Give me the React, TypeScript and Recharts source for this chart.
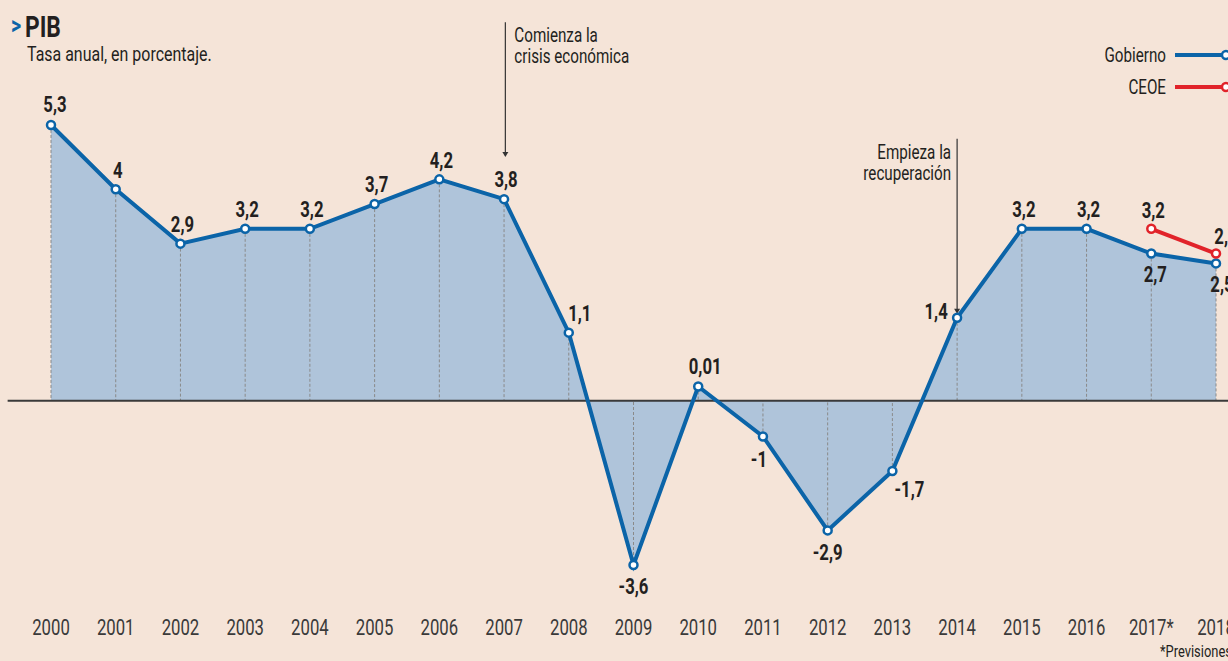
import React from "react";
import { ComposedChart, Area, Line, XAxis, YAxis, ReferenceLine, LabelList } from "recharts";

const years = ["2000","2001","2002","2003","2004","2005","2006","2007","2008","2009","2010","2011","2012","2013","2014","2015","2016","2017*","2018"];
const gobierno = [5.3, 4, 2.9, 3.2, 3.2, 3.7, 4.2, 3.8, 1.1, -3.6, 0.01, -1, -2.9, -1.7, 1.4, 3.2, 3.2, 2.7, 2.5];
const ceoe: (number | null)[] = [null, null, null, null, null, null, null, null, null, null, null, null, null, null, null, null, null, 3.2, 2.7];

const BASE = -0.28;
const BG = "#F5E4D8";
const BLUE = "#0B64A8";
const FILL = "#AFC4DA";
const RED = "#E1232A";
const TEXT = "#231F20";
const FONT = "Roboto, 'DejaVu Sans', sans-serif";
const SX = 0.76;

const data = years.map((y, i) => ({ idx: i, label: y, gob: gobierno[i], ceoe: ceoe[i] }));

const fmt = (v: number) => String(v).replace(".", ",");

// condensed text: horizontally scaled around its anchor point
const CText = ({ x, y, children, anchor = "middle", size = 19, weight = "normal", fill = TEXT, baseline = "auto" }: any) => (
  <g transform={`translate(${x},${y}) scale(${SX},1)`}>
    <text x={0} y={0} textAnchor={anchor} dominantBaseline={baseline} fontFamily={FONT}
      fontSize={size} fontWeight={weight} fill={fill}>{children}</text>
  </g>
);

// label placement offsets (dx, dy) relative to the point
const gobOffset = (i: number): [number, number] => {
  const v = gobierno[i];
  if (i === 0) return [4, -20];
  if (i === 8) return [11, -19];
  if (i === 10) return [7, -20];
  if (i === 11) return [-4, 23];
  if (i === 13) return [17, 19];
  if (i === 14) return [-21, -6];
  if (i === 17) return [4, 21];
  if (i === 18) return [6, 21];
  if (v < 0) return [0, 22];
  return [2, -19];
};
const ceoeOffset = (i: number): [number, number] => (i === 18 ? [10, -17] : [2, -18]);

const makeLabel = (offset: (i: number) => [number, number]) => (p: any) => {
  const { x, y, value, index } = p;
  if (value === null || value === undefined) return null;
  const [dx, dy] = offset(index);
  return (
    <CText x={x + dx} y={y + dy} baseline="central" size={22} weight="bold">{fmt(value)}</CText>
  );
};

const YearTick = (p: any) => {
  const { x, y, payload } = p;
  return <CText x={x} y={y + 10} baseline="central" size={22} fill="#3a3a3a">{years[payload.value]}</CText>;
};

const arrowShape = (lines: string[], side: "left" | "right") => (p: any) => {
  const x1 = p.x1, y1 = Math.min(p.y1, p.y2), y2 = Math.max(p.y1, p.y2);
  const tx = side === "right" ? x1 + 9 : x1 - 6;
  return (
    <g>
      <line x1={x1} y1={y1} x2={x1} y2={y2 - 3} stroke="#333" strokeWidth={1.2} />
      <path d={`M${x1 - 3},${y2 - 5} L${x1 + 3},${y2 - 5} L${x1},${y2} Z`} fill="#333" />
      {lines.map((t, k) => (
        <CText key={k} x={tx} y={y1 + 20 + k * 21} anchor={side === "right" ? "start" : "end"} size={20}>{t}</CText>
      ))}
    </g>
  );
};

export default function App() {
  return (
    <div style={{ position: "absolute", left: 0, top: 0, width: 1228, height: 661, overflow: "hidden", background: BG }}>
      <ComposedChart width={1300} height={661} data={data}
        margin={{ top: 16.2, right: 84, left: 51, bottom: 21.5 }}>
        <XAxis dataKey="idx" type="number" domain={[0, 18]} ticks={years.map((_, i) => i)}
          axisLine={false} tickLine={false} height={30} tick={<YearTick />} interval={0} />
        <YAxis hide domain={[-4.5, 7.5]} allowDataOverflow />
        <Area dataKey="gob" type="linear" baseValue={BASE} fill={FILL} fillOpacity={1} stroke="none"
          isAnimationActive={false} />
        {gobierno.map((v, i) => (
          <ReferenceLine key={"d" + i} segment={[{ x: i, y: v }, { x: i, y: BASE }]}
            stroke="#8a8a8a" strokeDasharray="3 2" strokeWidth={1} ifOverflow="visible" />
        ))}
        <ReferenceLine segment={[{ x: -0.67, y: BASE }, { x: 19, y: BASE }]} stroke="#3a3a3a" strokeWidth={2} ifOverflow="visible" />
        <ReferenceLine segment={[{ x: 7.02, y: 7.38 }, { x: 7.02, y: 4.65 }]} ifOverflow="visible"
          shape={arrowShape(["Comienza la", "crisis económica"], "right")} />
        <ReferenceLine segment={[{ x: 14, y: 5.02 }, { x: 14, y: 1.48 }]} ifOverflow="visible"
          shape={arrowShape(["Empieza la", "recuperación"], "left")} />
        <Line dataKey="gob" type="linear" stroke={BLUE} strokeWidth={4} isAnimationActive={false}
          dot={{ r: 4, fill: "#fff", stroke: BLUE, strokeWidth: 2.5 }}>
          <LabelList dataKey="gob" content={makeLabel(gobOffset)} />
        </Line>
        <Line dataKey="ceoe" type="linear" stroke={RED} strokeWidth={4} isAnimationActive={false}
          dot={{ r: 4, fill: "#fff", stroke: RED, strokeWidth: 2.5 }} connectNulls={false}>
          <LabelList dataKey="ceoe" content={makeLabel(ceoeOffset)} />
        </Line>
      </ComposedChart>

      <svg style={{ position: "absolute", left: 0, top: 0, pointerEvents: "none" }} width={1228} height={661}>
        <CText x={11} y={34} anchor="start" size={26} weight="bold" fill={BLUE}>&gt;</CText>
        <CText x={25} y={37} anchor="start" size={30} weight="bold">PIB</CText>
        <CText x={27} y={61} anchor="start" size={21}>Tasa anual, en porcentaje.</CText>

        <CText x={1166} y={62} anchor="end" size={20}>Gobierno</CText>
        <line x1={1175} y1={55} x2={1226} y2={55} stroke={BLUE} strokeWidth={4} />
        <circle cx={1226} cy={55} r={4} fill="#fff" stroke={BLUE} strokeWidth={2.5} />
        <CText x={1166} y={94} anchor="end" size={20}>CEOE</CText>
        <line x1={1175} y1={87} x2={1226} y2={87} stroke={RED} strokeWidth={4} />
        <circle cx={1226} cy={87} r={4} fill="#fff" stroke={RED} strokeWidth={2.5} />

        <CText x={1160} y={657} anchor="start" size={17}>*Previsiones</CText>
      </svg>
    </div>
  );
}
